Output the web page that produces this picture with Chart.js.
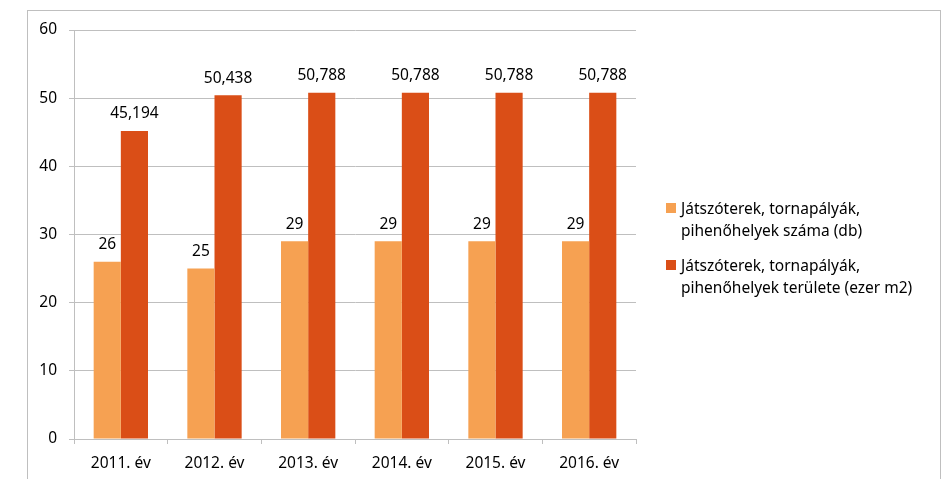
<!DOCTYPE html>
<html>
<head>
<meta charset="utf-8">
<script src="https://cdn.jsdelivr.net/npm/chart.js@4/dist/chart.umd.min.js"></script>
<style>
  body { margin: 0; background: #fff; font-family: "Noto Sans", sans-serif; }
  .wrap { position: relative; width: 945px; height: 479px; overflow: hidden; }
  .frame { position: absolute; left: 27px; top: 10px; width: 912px; height: 600px; border: 1px solid #bfbfbf; }
  canvas { position: absolute; left: 0; top: 0; }
  .legend { position: absolute; left: 666px; top: 197px; font-size: 15.5px; color: #000; }
  .legend-item { position: relative; padding-left: 15px; line-height: 22px; margin-bottom: 13px; }
  .legend-item .box { position: absolute; left: 0; top: 6px; width: 10px; height: 10px; }
</style>
</head>
<body>
<div class="wrap">
  <div class="frame"></div>
  <canvas id="chart" width="945" height="479"></canvas>
  <div class="legend" id="legend"></div>
</div>
<script>
const years = ["2011. év", "2012. év", "2013. év", "2014. év", "2015. év", "2016. év"];
const countValues = [26, 25, 29, 29, 29, 29];
const areaValues = [45.194, 50.438, 50.788, 50.788, 50.788, 50.788];
const seriesNames = [
  ["Játszóterek, tornapályák,", "pihenőhelyek száma (db)"],
  ["Játszóterek, tornapályák,", "pihenőhelyek területe (ezer m2)"]
];
const seriesColors = ["#F6A152", "#DA4E17"];
const yTicks = [0, 10, 20, 30, 40, 50, 60];

const fontFamily = '"Noto Sans", sans-serif';
const fontSize = 15.5;
const gridColor = "#bfbfbf";

function formatValue(v) {
  if (Number.isInteger(v)) return String(v);
  return v.toFixed(3).replace(".", ",");
}

// value labels above each bar
const barLabels = {
  id: "barLabels",
  afterDatasetsDraw(chart) {
    const ctx = chart.ctx;
    ctx.save();
    ctx.font = fontSize + "px " + fontFamily;
    ctx.fillStyle = "#000";
    ctx.textAlign = "center";
    ctx.textBaseline = "middle";
    chart.data.datasets.forEach((ds, i) => {
      chart.getDatasetMeta(i).data.forEach((bar, j) => {
        ctx.fillText(formatValue(ds.data[j]), bar.x, bar.y - 17);
      });
    });
    ctx.restore();
  }
};

const ctx = document.getElementById("chart").getContext("2d");
new Chart(ctx, {
  type: "bar",
  data: {
    labels: years,
    datasets: [
      { label: seriesNames[0].join(" "), data: countValues, backgroundColor: seriesColors[0] },
      { label: seriesNames[1].join(" "), data: areaValues, backgroundColor: seriesColors[1] }
    ]
  },
  options: {
    responsive: false,
    animation: false,
    categoryPercentage: 0.58,
    barPercentage: 1.0,
    layout: { padding: { left: 27, top: 30, right: 309, bottom: 0 } },
    plugins: {
      legend: { display: false },
      tooltip: { enabled: false }
    },
    scales: {
      x: {
        grid: { offset: true, drawOnChartArea: false, drawTicks: true, tickLength: 5, color: gridColor },
        border: { color: gridColor },
        ticks: { color: "#000", font: { family: fontFamily, size: fontSize }, padding: 10, maxRotation: 0 },
        afterFit(scale) { scale.height = 40; }
      },
      y: {
        min: 0,
        max: 60,
        afterBuildTicks(scale) { scale.ticks = yTicks.map(v => ({ value: v })); },
        grid: { color: gridColor, tickLength: 5 },
        border: { color: gridColor },
        ticks: { color: "#000", font: { family: fontFamily, size: fontSize }, padding: 12 },
        afterFit(scale) { scale.width = 47; }
      }
    }
  },
  plugins: [barLabels]
});

// legend with the two-line series names
const legend = document.getElementById("legend");
seriesNames.forEach((lines, i) => {
  const item = document.createElement("div");
  item.className = "legend-item";
  item.innerHTML = '<span class="box" style="background:' + seriesColors[i] + '"></span>' + lines.join("<br>");
  legend.appendChild(item);
});
</script>
</body>
</html>
